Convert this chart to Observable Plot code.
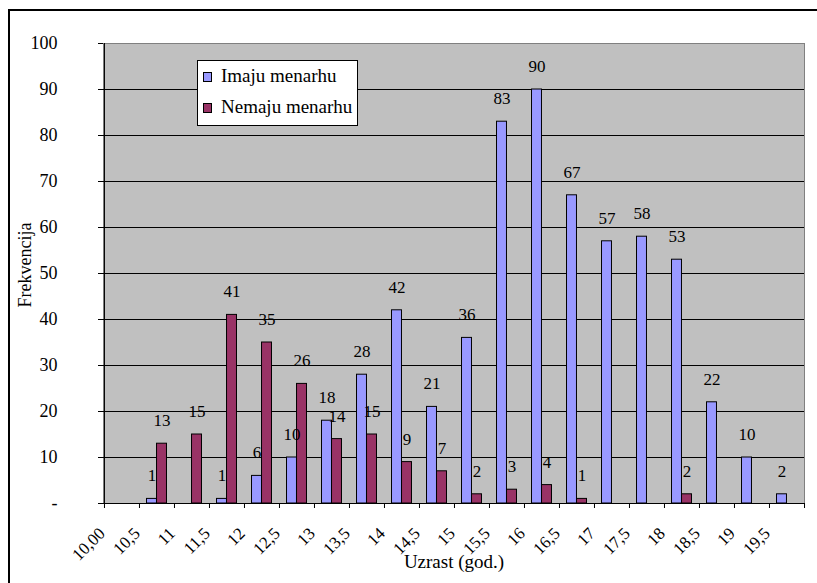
<!DOCTYPE html>
<html><head><meta charset="utf-8">
<script src="https://cdn.jsdelivr.net/npm/d3@7"></script>
<script src="https://cdn.jsdelivr.net/npm/@observablehq/plot@0.6"></script>
<style>
body{margin:0;background:#fff;overflow:hidden;}
#wrap{position:relative;width:817px;height:583px;font-family:"Liberation Serif","Times New Roman",serif;overflow:hidden;}
#border{position:absolute;left:8px;top:9px;width:900px;height:700px;border:2px solid #000;}
#chart{position:absolute;left:0;top:0;}
#legend{position:absolute;left:197px;top:60px;width:161px;height:66px;box-sizing:border-box;border:1px solid #000;background:#fff;}
.txt{position:absolute;left:23px;font-size:19px;line-height:18px;white-space:nowrap;color:#000;}
.sw{position:absolute;left:5px;width:7px;height:8px;border:1px solid #000;}
</style></head>
<body>
<div id="wrap">
  <div id="border"></div>
  <div id="chart"></div>
  <div id="legend">
    <div class="sw" id="sw0" style="top:11px"></div><div class="txt" id="t0" style="top:6px"></div>
    <div class="sw" id="sw1" style="top:42px"></div><div class="txt" id="t1" style="top:37px"></div>
  </div>
</div>
<script>
const categories = ["10,00","10,5","11","11,5","12","12,5","13","13,5","14","14,5","15","15,5","16","16,5","17","17,5","18","18,5","19","19,5"];
const imaju  = [null,1,null,1,6,10,18,28,42,21,36,83,90,67,57,58,53,22,10,2];
const nemaju = [null,13,15,41,35,26,14,15,9,7,2,3,4,1,null,null,2,null,null,null];
const seriesNames = ["Imaju menarhu","Nemaju menarhu"];
const seriesColors = ["#9999ff","#993366"];
const yTicks = [0,10,20,30,40,50,60,70,80,90,100];
const xTitle = "Uzrast (god.)";
const yTitle = "Frekvencija";

const W = 817, H = 583, mL = 103, mR = 13, mT = 43, mB = 80;
const bw = (W - mL - mR) / categories.length;
const font = "'Liberation Serif', 'Times New Roman', serif";

const rows = [];
categories.forEach((c, i) => {
  if (imaju[i] != null) rows.push({cat: c, series: seriesNames[0], value: imaju[i]});
  if (nemaju[i] != null) rows.push({cat: c, series: seriesNames[1], value: nemaju[i]});
});
const blue = rows.filter(d => d.series === seriesNames[0]);
const red = rows.filter(d => d.series === seriesNames[1]);
const barW = bw / 3.5;
const gap = (bw - 2 * barW) / 2;

const chart = Plot.plot({
  width: W, height: H,
  marginLeft: mL, marginRight: mR, marginTop: mT, marginBottom: mB,
  style: {fontFamily: font, background: "transparent", color: "#000"},
  x: {type: "band", domain: categories, padding: 0, axis: null},
  y: {domain: [0, 100], axis: null},
  color: {domain: seriesNames, range: seriesColors},
  marks: [
    Plot.frame({fill: "#c0c0c0", stroke: "#808080"}),
    Plot.ruleY(yTicks.filter(t => t > 0 && t < 100), {stroke: "#000", strokeWidth: 1}),
    Plot.barY(blue, {x: "cat", y: "value", fill: "series", stroke: "#000", strokeWidth: 1, insetLeft: gap, insetRight: gap + barW}),
    Plot.barY(red, {x: "cat", y: "value", fill: "series", stroke: "#000", strokeWidth: 1, insetLeft: gap + barW, insetRight: gap}),
    Plot.ruleY([0], {stroke: "#000"}),
    Plot.ruleX([categories[0]], {dx: -bw / 2, stroke: "#000"}),
    // x tick marks at category boundaries
    Plot.ruleX(categories, {x: d => d, y1: 0, y2: 0, dx: -bw / 2, insetBottom: -5, stroke: "#000"}),
    Plot.ruleX([categories[categories.length - 1]], {x: d => d, y1: 0, y2: 0, dx: bw / 2, insetBottom: -5, stroke: "#000"}),
    // y axis
    Plot.axisY({ticks: yTicks, tickSize: 5, tickPadding: 41, tickFormat: d => d === 0 ? "-" : String(d), fontSize: 18, label: null}),
    // x tick labels
    Plot.text(categories, {x: d => d, frameAnchor: "bottom", text: d => d, rotate: -45, textAnchor: "end", dx: -bw / 2 + 1.5, dy: 31, fontSize: 17, fill: "#000"}),
    // data labels
    Plot.text(blue, {x: "cat", y: "value", text: d => String(d.value), dx: -barW / 2, dy: -23, fontSize: 17, fill: "#000"}),
    Plot.text(red, {x: "cat", y: "value", text: d => String(d.value), dx: barW / 2, dy: -23, fontSize: 17, fill: "#000"}),
    // titles
    Plot.text([xTitle], {frameAnchor: "bottom", text: d => d, dy: 64, fontSize: 19, fill: "#000"}),
    Plot.text([yTitle], {frameAnchor: "left", text: d => d, rotate: -90, dx: -78, dy: 34, fontSize: 18, fill: "#000"})
  ]
});
document.getElementById("chart").appendChild(chart);

document.getElementById("sw0").style.background = seriesColors[0];
document.getElementById("sw1").style.background = seriesColors[1];
document.getElementById("t0").textContent = seriesNames[0];
document.getElementById("t1").textContent = seriesNames[1];
</script>
</body></html>
